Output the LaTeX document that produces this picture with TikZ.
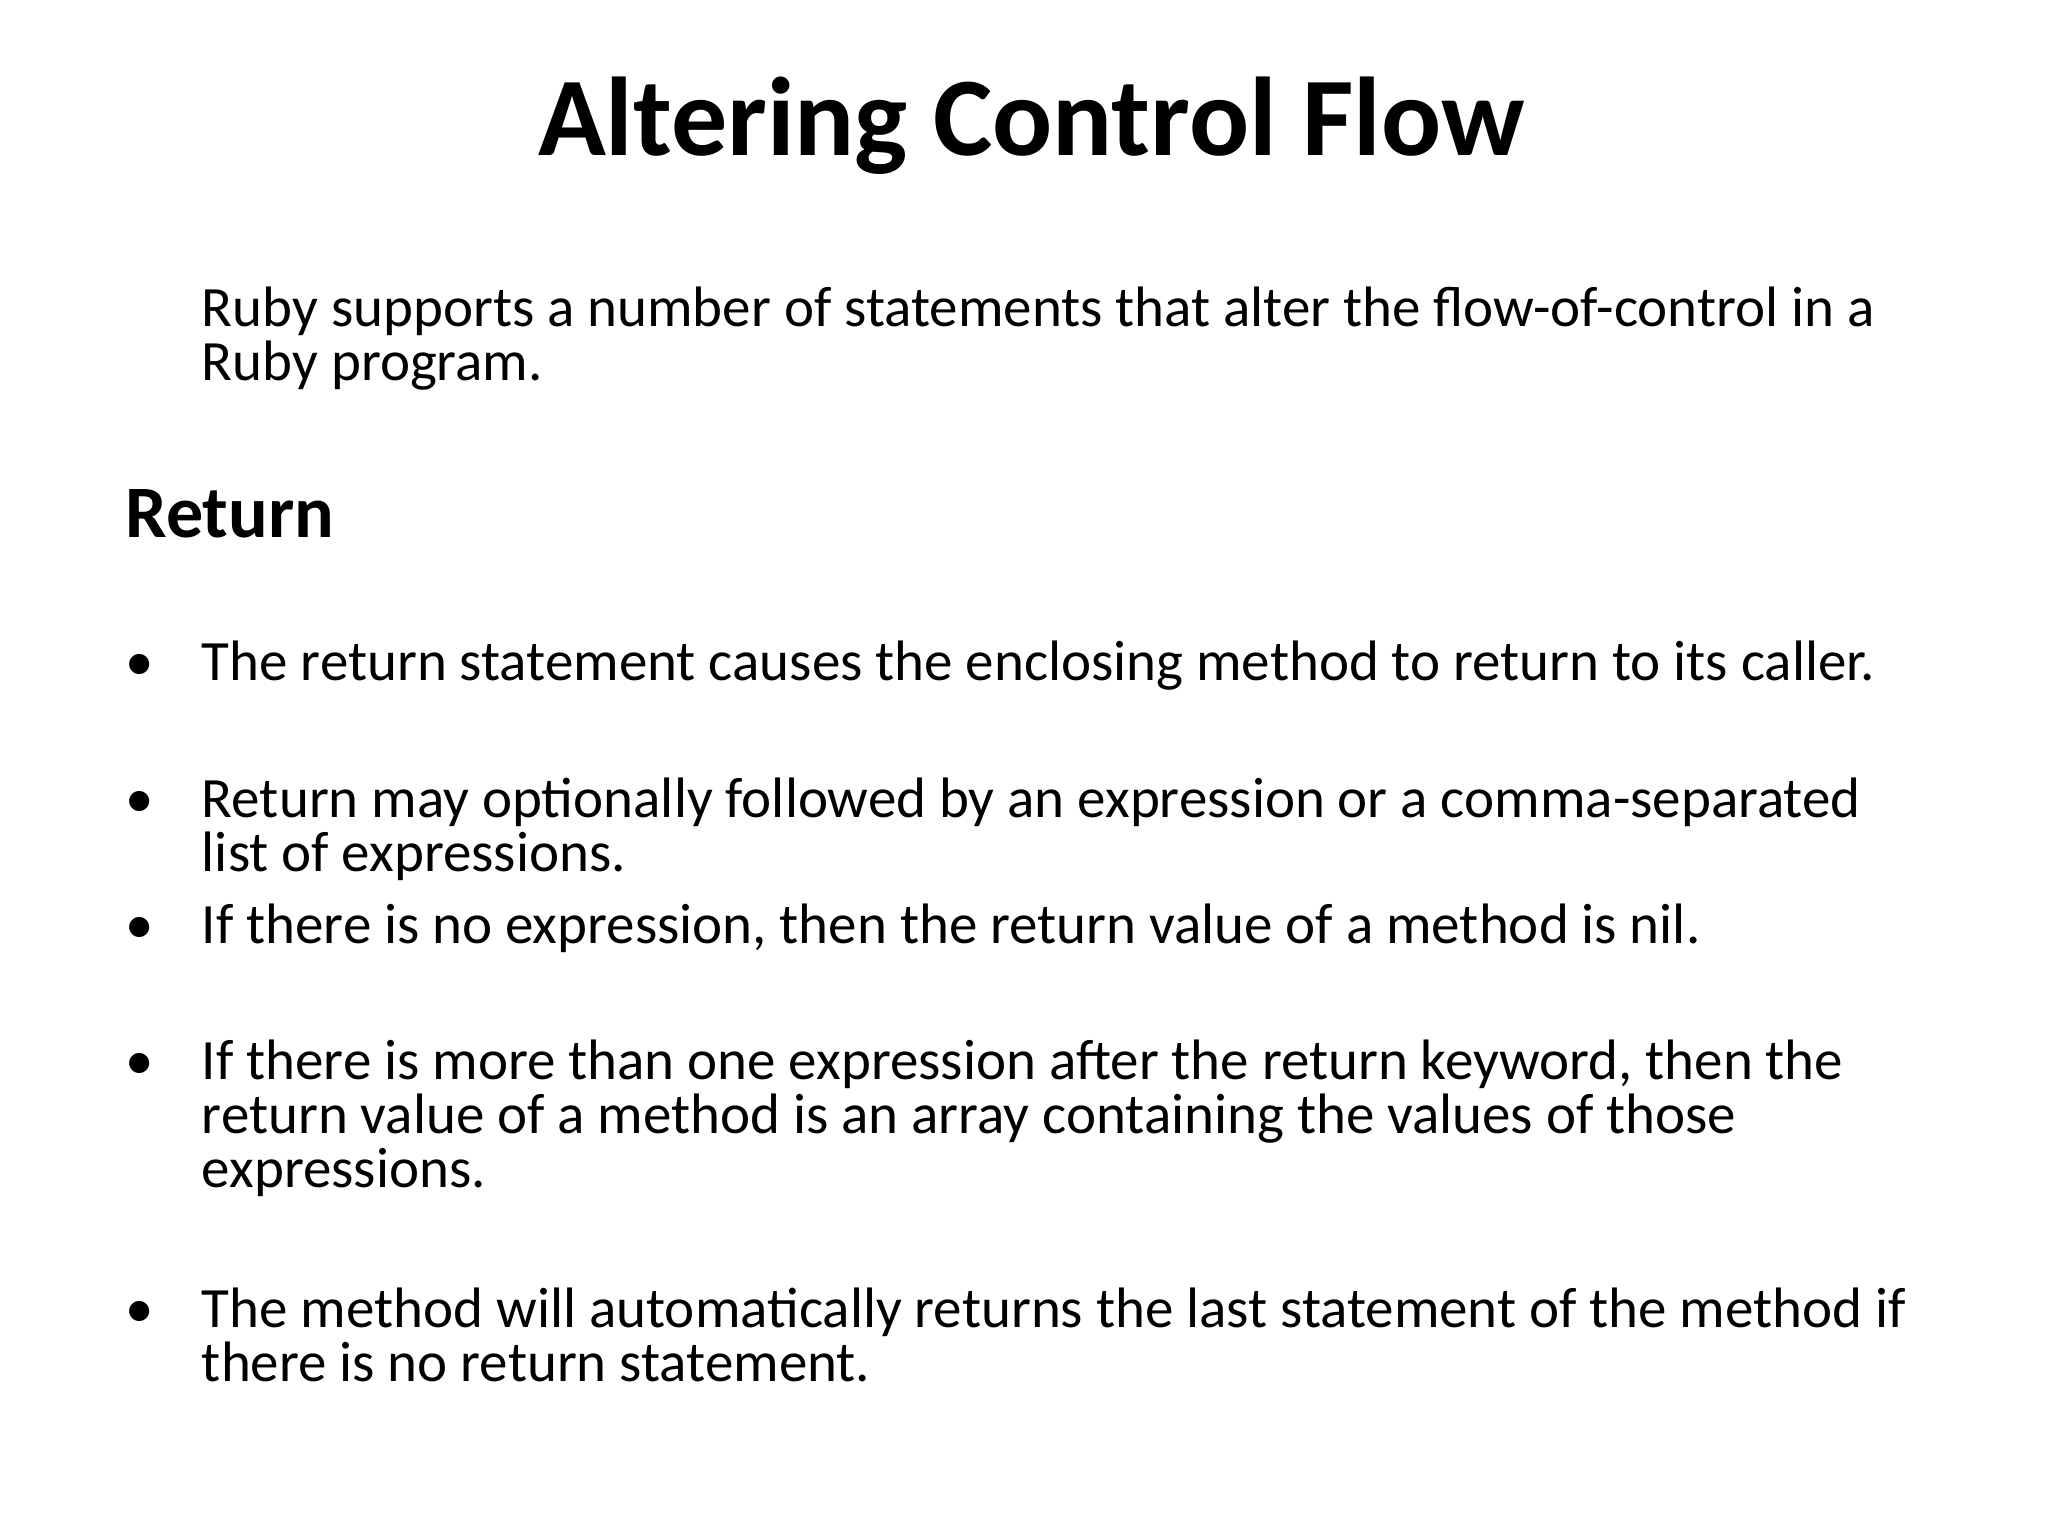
\documentclass[tikz,border=0pt]{standalone}
\usepackage{fontspec}
\setmainfont{Carlito}
\begin{document}
\begin{tikzpicture}[x=0.6585pt,y=-0.6585pt,
  txt/.style={anchor=base west,inner sep=0pt,font=\fontsize{28.5}{30}\selectfont},
  bul/.style={anchor=base west,inner sep=0pt,font=\fontsize{28.5}{30}\selectfont}]
\useasboundingbox[fill=white] (0,0) rectangle (1555,1166);
\node[anchor=base,inner sep=0pt,font=\bfseries\fontsize{56}{60}\selectfont] (title) at (783,118) {Altering Control Flow};
\node[txt] (i1) at (153,248) {Ruby supports a number of statements that alter the flow-of-control in a};
\node[txt] (i2) at (153,289) {Ruby program.};
\node[anchor=base west,inner sep=0pt,font=\bfseries\fontsize{37}{40}\selectfont] (ret) at (95,408) {Return};
\foreach \n/\y in {1/517,2/621,3/716,4/820,5/1008}{\node[bul] (b\n) at (95,\y) {•};}
\node[txt] (a1) at (153,517) {The return statement causes the enclosing method to return to its caller.};
\node[txt] (a2) at (153,621) {Return may optionally followed by an expression or a comma-separated};
\node[txt] (a3) at (153,662) {list of expressions.};
\node[txt] (a4) at (153,716) {If there is no expression, then the return value of a method is nil.};
\node[txt] (a5) at (153,820) {If there is more than one expression after the return keyword, then the};
\node[txt] (a6) at (153,861) {return value of a method is an array containing the values of those};
\node[txt] (a7) at (153,902) {expressions.};
\node[txt] (a8) at (153,1008) {The method will automatically returns the last statement of the method if};
\node[txt] (a9) at (153,1049) {there is no return statement.};
\end{tikzpicture}
\end{document}
